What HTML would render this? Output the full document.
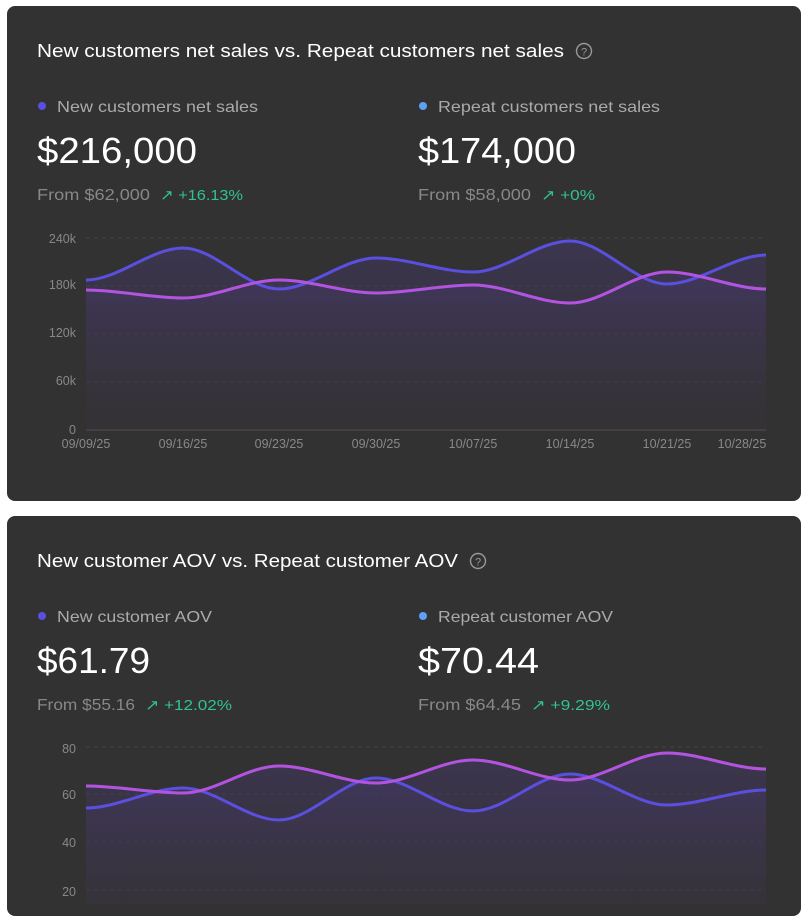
<!DOCTYPE html>
<html><head><meta charset="utf-8"><style>
body{margin:0;width:808px;height:904px;background:#fff;font-family:"Liberation Sans",sans-serif;overflow:hidden;position:relative}
.card{position:absolute;left:7px;width:794px;background:#323232;border-radius:8px}
svg{position:absolute;left:0;top:0}
</style></head><body>
<div class="card" style="top:6px;height:495px"></div>
<div class="card" style="top:516px;height:400px"></div>
<svg width="808" height="904" font-family="Liberation Sans, sans-serif">
<defs>
<linearGradient id="g1" x1="0" y1="0" x2="0" y2="1"><stop offset="0" stop-color="#45386a" stop-opacity="0.55"/><stop offset="1" stop-color="#363238" stop-opacity="0.2"/></linearGradient>
</defs>
<!-- card 1 -->
<text x="37" y="57" fill="#fff" font-size="18" font-weight="500" textLength="527" lengthAdjust="spacingAndGlyphs">New customers net sales vs. Repeat customers net sales</text>
<circle cx="584" cy="51" r="7.5" fill="none" stroke="#999" stroke-width="1.4"/><text x="584" y="55.5" fill="#999" font-size="11" text-anchor="middle">?</text>
<circle cx="42" cy="106" r="4" fill="#5b4fe0"/><text x="57" y="112" fill="#aaa" font-size="16" textLength="201" lengthAdjust="spacingAndGlyphs">New customers net sales</text>
<circle cx="423" cy="106" r="4" fill="#5fa0f5"/><text x="438" y="112" fill="#aaa" font-size="16" textLength="222" lengthAdjust="spacingAndGlyphs">Repeat customers net sales</text>
<text x="37" y="163" fill="#fff" font-size="36" textLength="160" lengthAdjust="spacingAndGlyphs">$216,000</text>
<text x="418" y="163" fill="#fff" font-size="36" textLength="158" lengthAdjust="spacingAndGlyphs">$174,000</text>
<text x="37" y="200" fill="#888" font-size="16" textLength="113" lengthAdjust="spacingAndGlyphs">From $62,000</text>
<text x="160" y="200" fill="#2fc48d" font-size="15" textLength="83" lengthAdjust="spacingAndGlyphs">↗ +16.13%</text>
<text x="418" y="200" fill="#888" font-size="16" textLength="113" lengthAdjust="spacingAndGlyphs">From $58,000</text>
<text x="541" y="200" fill="#2fc48d" font-size="15" textLength="54" lengthAdjust="spacingAndGlyphs">↗ +0%</text>
<g stroke="#444" stroke-dasharray="4 4" stroke-width="1"><line x1="86" x2="766" y1="238" y2="238"/><line x1="86" x2="766" y1="286" y2="286"/><line x1="86" x2="766" y1="334" y2="334"/><line x1="86" x2="766" y1="382" y2="382"/></g>
<line x1="86" x2="766" y1="430" y2="430" stroke="#555"/>
<g fill="#888" font-size="12.5" text-anchor="end"><text x="76" y="243">240k</text><text x="76" y="289">180k</text><text x="76" y="337">120k</text><text x="76" y="385">60k</text><text x="76" y="434">0</text></g>
<g fill="#888" font-size="12.5" text-anchor="middle"><text x="86" y="448">09/09/25</text><text x="183" y="448">09/16/25</text><text x="279" y="448">09/23/25</text><text x="376" y="448">09/30/25</text><text x="473" y="448">10/07/25</text><text x="570" y="448">10/14/25</text><text x="667" y="448">10/21/25</text><text x="742" y="448">10/28/25</text></g>
<path d="M86,280 C118,280 151,248 183,248 C215,248 247,289 279,289 C311,289 344,258 376,258 C408,258 441,272 473,272 C505,272 538,241 570,241 C602,241 635,284 667,284 C699,284 734,255 766,255 L766,430 L86,430Z" fill="url(#g1)"/>
<path d="M86,290 C118,290 151,298 183,298 C215,298 247,280 279,280 C311,280 344,293 376,293 C408,293 441,285 473,285 C505,285 538,303 570,303 C602,303 635,272 667,272 C699,272 734,289 766,289 L766,430 L86,430Z" fill="url(#g1)"/>
<path d="M86,280 C118,280 151,248 183,248 C215,248 247,289 279,289 C311,289 344,258 376,258 C408,258 441,272 473,272 C505,272 538,241 570,241 C602,241 635,284 667,284 C699,284 734,255 766,255" fill="none" stroke="#5b4fe0" stroke-width="3"/>
<path d="M86,290 C118,290 151,298 183,298 C215,298 247,280 279,280 C311,280 344,293 376,293 C408,293 441,285 473,285 C505,285 538,303 570,303 C602,303 635,272 667,272 C699,272 734,289 766,289" fill="none" stroke="#b354e0" stroke-width="3"/>
<!-- card 2 -->
<text x="37" y="567" fill="#fff" font-size="18" font-weight="500" textLength="421" lengthAdjust="spacingAndGlyphs">New customer AOV vs. Repeat customer AOV</text>
<circle cx="478" cy="561" r="7.5" fill="none" stroke="#999" stroke-width="1.4"/><text x="478" y="565.5" fill="#999" font-size="11" text-anchor="middle">?</text>
<circle cx="42" cy="616" r="4" fill="#5b4fe0"/><text x="57" y="622" fill="#aaa" font-size="16" textLength="155" lengthAdjust="spacingAndGlyphs">New customer AOV</text>
<circle cx="423" cy="616" r="4" fill="#5fa0f5"/><text x="438" y="622" fill="#aaa" font-size="16" textLength="175" lengthAdjust="spacingAndGlyphs">Repeat customer AOV</text>
<text x="37" y="673" fill="#fff" font-size="36" textLength="113" lengthAdjust="spacingAndGlyphs">$61.79</text>
<text x="418" y="673" fill="#fff" font-size="36" textLength="121" lengthAdjust="spacingAndGlyphs">$70.44</text>
<text x="37" y="710" fill="#888" font-size="16" textLength="98" lengthAdjust="spacingAndGlyphs">From $55.16</text>
<text x="145" y="710" fill="#2fc48d" font-size="15" textLength="87" lengthAdjust="spacingAndGlyphs">↗ +12.02%</text>
<text x="418" y="710" fill="#888" font-size="16" textLength="103" lengthAdjust="spacingAndGlyphs">From $64.45</text>
<text x="531" y="710" fill="#2fc48d" font-size="15" textLength="79" lengthAdjust="spacingAndGlyphs">↗ +9.29%</text>
<g stroke="#444" stroke-dasharray="4 4" stroke-width="1"><line x1="86" x2="766" y1="747" y2="747"/><line x1="86" x2="766" y1="794" y2="794"/><line x1="86" x2="766" y1="842" y2="842"/><line x1="86" x2="766" y1="890" y2="890"/></g>
<g fill="#888" font-size="12.5" text-anchor="end"><text x="76" y="753">80</text><text x="76" y="799">60</text><text x="76" y="847">40</text><text x="76" y="896">20</text></g>
<path d="M86,808 C118,808 151,788 183,788 C215,788 247,820 279,820 C311,820 344,778 376,778 C408,778 441,811 473,811 C505,811 538,774 570,774 C602,774 635,805 667,805 C699,805 734,790 766,790 L766,940 L86,940Z" fill="url(#g1)"/>
<path d="M86,786 C118,786 151,793 183,793 C215,793 247,766 279,766 C311,766 344,783 376,783 C408,783 441,760 473,760 C505,760 538,780 570,780 C602,780 635,753 667,753 C699,753 734,769 766,769 L766,940 L86,940Z" fill="url(#g1)"/>
<path d="M86,808 C118,808 151,788 183,788 C215,788 247,820 279,820 C311,820 344,778 376,778 C408,778 441,811 473,811 C505,811 538,774 570,774 C602,774 635,805 667,805 C699,805 734,790 766,790" fill="none" stroke="#5b4fe0" stroke-width="3"/>
<path d="M86,786 C118,786 151,793 183,793 C215,793 247,766 279,766 C311,766 344,783 376,783 C408,783 441,760 473,760 C505,760 538,780 570,780 C602,780 635,753 667,753 C699,753 734,769 766,769" fill="none" stroke="#b354e0" stroke-width="3"/>
</svg>
</body></html>
